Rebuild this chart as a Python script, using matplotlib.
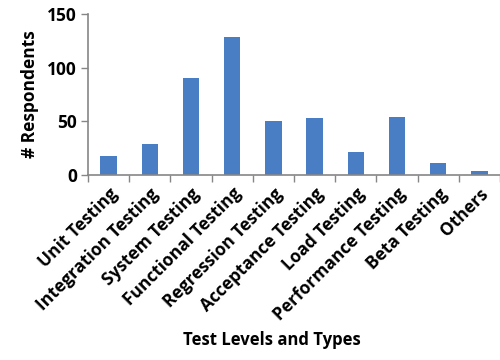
import matplotlib
matplotlib.use("Agg")
import matplotlib.pyplot as plt
import numpy as np

categories = ["Unit Testing", "Integration Testing", "System Testing", "Functional Testing",
              "Regression Testing", "Acceptance Testing", "Load Testing", "Performance Testing",
              "Beta Testing", "Others"]
respondents = [18, 29, 90, 129, 50, 53, 21, 54, 11, 4]
yticks = [0, 50, 100, 150]

plt.rcParams['font.family'] = ['Open Sans', 'DejaVu Sans']
plt.rcParams['font.weight'] = 'bold'

fig = plt.figure(figsize=(5, 3.6), dpi=100)
ax = fig.add_axes([0.176, 0.514, 0.824, 0.447])

x = np.arange(len(categories))
ax.bar(x, respondents, width=0.4, color="#4a7ec4", zorder=2)

ax.set_xlim(-0.5, len(categories) - 0.5)
ax.set_ylim(0, 150)
ax.set_yticks(yticks)
ax.set_yticklabels([str(v) for v in yticks], fontsize=12.5, fontweight='bold')

# ticks sit between the bars, labels under the bars
ax.set_xticks(np.arange(len(categories) + 1) - 0.5)
ax.set_xticklabels([])
ax.set_xticks(x, minor=True)
ax.set_xticklabels(categories, minor=True, rotation=45, ha='right',
                   rotation_mode='anchor', fontsize=12.5, fontweight='bold')
ax.tick_params(axis='x', which='minor', length=0, pad=7)
ax.tick_params(axis='x', which='major', length=5, color='#868686', width=1)
ax.tick_params(axis='y', length=5, color='#868686', width=1, pad=3)

for s in ['top', 'right']:
    ax.spines[s].set_visible(False)
for s in ['left', 'bottom']:
    ax.spines[s].set_color('#868686')
    ax.spines[s].set_linewidth(1.2)

ax.set_ylabel("# Respondents", fontsize=12.5, fontweight='bold', labelpad=6)
fig.text(0.544, 0.055, "Test Levels and Types", ha='center', va='center',
         fontsize=12, fontweight='bold')

fig.savefig("out.png", dpi=100)
